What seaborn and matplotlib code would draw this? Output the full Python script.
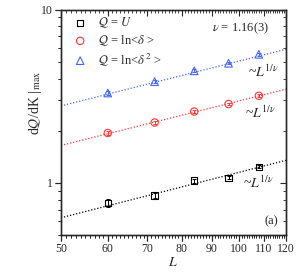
import numpy as np
import pandas as pd
import seaborn as sns
import matplotlib
matplotlib.use("Agg")
import matplotlib.pyplot as plt
from matplotlib.ticker import MultipleLocator, FixedLocator, NullFormatter, FormatStrFormatter, LogLocator

# data
L = [60, 72, 84, 96, 108]
U = [0.767, 0.845, 1.03, 1.07, 1.236]
U_err = [0.04, 0.025, 0.025, 0.02, 0.025]
ln_d = [1.94, 2.23, 2.58, 2.85, 3.18]
ln_d_err = [0.05, 0.04, 0.05, 0.05, 0.06]
ln_d2 = [3.30, 3.84, 4.43, 4.90, 5.52]
ln_d2_err = [0.08, 0.08, 0.08, 0.08, 0.09]

# fitted power laws ~L^{1/nu}, endpoints at L=50 and L=120
fit_L = [50, 120]
fit_U = [0.629, 1.349]
fit_ln_d = [1.645, 3.47]
fit_ln_d2 = [2.78, 5.9]

labels = [r"$\mathcal{Q}$ = $U$",
          r"$\mathcal{Q}$ = ln<$\delta$ >",
          r"$\mathcal{Q}$ = ln<$\delta^{\,2}$ >"]

xticks = [50, 60, 70, 80, 90, 100, 110, 120]

sns.set_style("ticks")
plt.rcParams["font.family"] = ["Liberation Serif", "DejaVu Serif"]
plt.rcParams["mathtext.fontset"] = "stix"
for k in ("xtick", "ytick"):
    plt.rcParams[k + ".major.size"] = 4
    plt.rcParams[k + ".major.width"] = 0.8
    plt.rcParams[k + ".minor.size"] = 2
    plt.rcParams[k + ".minor.width"] = 0.6
    plt.rcParams[k + ".major.pad"] = 1.5
    plt.rcParams[k + ".labelsize"] = 8.5
plt.rcParams["axes.linewidth"] = 0.9

fig = plt.figure(figsize=(3.0, 2.73), dpi=100)
pos = [0.203, 0.139, 0.750, 0.826]
ax = fig.add_axes(pos)

series = [
    (U, U_err, fit_U, "black", "s", 22),
    (ln_d, ln_d_err, fit_ln_d, "#ff3333", "o", 28),
    (ln_d2, ln_d2_err, fit_ln_d2, "#4466ff", "^", 30),
]

for (y, yerr, fit, c, m, s), lab in zip(series, labels):
    sns.lineplot(x=fit_L, y=fit, ax=ax, color=c, linestyle=(0, (1, 1.5)), linewidth=0.9)
    ax.errorbar(L, y, yerr=yerr, fmt="none", ecolor=c, elinewidth=0.7, capsize=1.5, capthick=0.7)
    sns.scatterplot(x=L, y=y, ax=ax, marker=m, s=s, facecolors="none", edgecolor=c,
                    linewidth=0.8, label=lab, zorder=5)

# data-free overlays: one for outward ticks (bottom/left), one for inward (top/right)
ov_out = fig.add_axes(pos)
ov_in = fig.add_axes(pos)

for a in (ax, ov_out, ov_in):
    a.set_xscale("log")
    a.set_yscale("log")
    a.set_xlim(50, 120)
    a.set_ylim(0.5, 10)
    a.xaxis.set_major_locator(FixedLocator(xticks))
    a.xaxis.set_minor_locator(MultipleLocator(1))
    a.yaxis.set_major_locator(FixedLocator([1, 10]))
    a.yaxis.set_minor_locator(LogLocator(base=10, subs=np.arange(2, 10)))
    a.xaxis.set_minor_formatter(NullFormatter())
    a.yaxis.set_minor_formatter(NullFormatter())

for a in (ov_out, ov_in):
    a.patch.set_visible(False)
    a.xaxis.set_major_formatter(NullFormatter())
    a.yaxis.set_major_formatter(NullFormatter())

ax.xaxis.set_major_formatter(FormatStrFormatter("%d"))
ax.yaxis.set_major_formatter(FormatStrFormatter("%d"))
ax.tick_params(which="both", direction="out", bottom=True, left=True, top=False, right=False)

ov_out.tick_params(which="both", direction="out",
                   bottom=True, left=True, top=False, right=False,
                   labelbottom=False, labelleft=False, labeltop=False, labelright=False)
ov_in.tick_params(which="both", direction="in",
                  bottom=False, left=False, top=True, right=True,
                  labelbottom=False, labelleft=False, labeltop=False, labelright=False)

ax.set_xlabel(r"$L$", fontsize=10, labelpad=1)
ax.set_ylabel(r"d$\mathcal{Q}$/dK |$_{\,\mathrm{max}}$", fontsize=10)
ax.yaxis.set_label_coords(-0.075, 0.585)

ax.legend(loc="upper left", frameon=False, fontsize=9, handletextpad=0.8,
          labelspacing=0.25, borderaxespad=0.0, handlelength=1.2,
          bbox_to_anchor=(0.03, 0.995))

ax.text(0.67, 0.918, r"$\nu$ = 1.16(3)", transform=ax.transAxes, fontsize=9, va="center")
ax.text(0.83, 0.724, r"~$L^{1/\nu}$", transform=ax.transAxes, fontsize=10, va="center")
ax.text(0.82, 0.541, r"~$L^{1/\nu}$", transform=ax.transAxes, fontsize=10, va="center")
ax.text(0.81, 0.231, r"~$L^{1/\nu}$", transform=ax.transAxes, fontsize=10, va="center")
ax.text(0.933, 0.062, "(a)", transform=ax.transAxes, fontsize=9, va="center", ha="center")

fig.savefig("out.png", dpi=100)
